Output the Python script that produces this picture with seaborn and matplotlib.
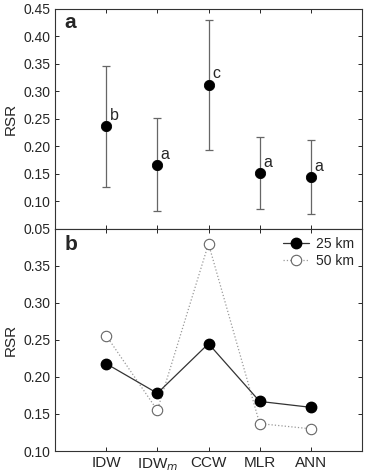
import numpy as np
import pandas as pd
import matplotlib
matplotlib.use("Agg")
import matplotlib.pyplot as plt
import seaborn as sns

methods = ["IDW", "IDW$_m$", "CCW", "MLR", "ANN"]
rsr_mean = [0.237, 0.166, 0.312, 0.151, 0.144]
rsr_low = [0.127, 0.082, 0.194, 0.087, 0.077]
rsr_high = [0.346, 0.251, 0.430, 0.217, 0.212]
groups = ["b", "a", "c", "a", "a"]
rsr_25km = [0.218, 0.178, 0.245, 0.167, 0.159]
rsr_50km = [0.256, 0.155, 0.380, 0.137, 0.130]

sns.set_style("ticks")
plt.rcParams["font.family"] = ["Liberation Sans", "DejaVu Sans"]
plt.rcParams["font.size"] = 10
plt.rcParams["xtick.direction"] = "in"
plt.rcParams["ytick.direction"] = "in"
plt.rcParams["axes.edgecolor"] = "#333333"
plt.rcParams["axes.linewidth"] = 0.8

x = np.arange(len(methods))
df_a = pd.DataFrame({"x": x, "rsr": rsr_mean})
df_b = pd.DataFrame({
    "x": np.concatenate([x, x]),
    "rsr": rsr_25km + rsr_50km,
    "dist": ["25 km"] * 5 + ["50 km"] * 5,
})

fig = plt.figure(figsize=(3.73, 4.73), dpi=100)
ax1 = fig.add_axes([0.1475, 0.516, 0.823, 0.465])
ax2 = fig.add_axes([0.1475, 0.0465, 0.823, 0.4695])

# panel a
err = [np.array(rsr_mean) - np.array(rsr_low), np.array(rsr_high) - np.array(rsr_mean)]
ax1.errorbar(x, rsr_mean, yerr=err, fmt="none", ecolor="#666666",
             elinewidth=0.9, capsize=3, capthick=0.9, zorder=1)
sns.scatterplot(data=df_a, x="x", y="rsr", ax=ax1, color="black", s=55,
                edgecolor="black", zorder=3, legend=False)
for xi, yi, g in zip(x, rsr_mean, groups):
    ax1.annotate(g, (xi, yi), xytext=(2.5, 2.5), textcoords="offset points",
                 ha="left", va="bottom", fontsize=11.5)
ax1.set_xlim(-1, 5)
ax1.set_ylim(0.05, 0.45)
ax1.set_yticks(np.arange(0.05, 0.451, 0.05))
ax1.set_yticklabels([f"{v:.2f}" for v in np.arange(0.05, 0.451, 0.05)])
ax1.set_xticks(x)
ax1.set_xticklabels([])
ax1.set_xlabel("")
ax1.set_ylabel("RSR", fontsize=11)
ax1.tick_params(top=True, right=True, length=3, width=0.7, labelsize=10)
ax1.text(0.03, 0.94, "a", transform=ax1.transAxes, fontsize=15,
         fontweight="bold", va="center", ha="left")

# panel b
sub25 = df_b[df_b["dist"] == "25 km"]
sub50 = df_b[df_b["dist"] == "50 km"]
ax2.plot(sub25["x"], sub25["rsr"], color="#333333", lw=0.9, ls="-",
         marker="o", ms=7.5, mfc="black", mec="black", label="25 km", zorder=3)
ax2.plot(sub50["x"], sub50["rsr"], color="#999999", lw=0.9, ls=":",
         marker="o", ms=7.5, mfc="white", mec="#666666", mew=0.8,
         label="50 km", zorder=2)
ax2.set_xlim(-1, 5)
ax2.set_ylim(0.10, 0.40)
ax2.set_yticks([0.10, 0.15, 0.20, 0.25, 0.30, 0.35])
ax2.set_yticklabels(["0.10", "0.15", "0.20", "0.25", "0.30", "0.35"])
ax2.set_xticks(x)
ax2.set_xticklabels(methods, fontsize=11)
ax2.set_xlabel("")
ax2.set_ylabel("RSR", fontsize=11)
ax2.tick_params(top=True, right=True, length=3, width=0.7, labelsize=10)
ax2.tick_params(axis="x", labelsize=11)
ax2.text(0.03, 0.93, "b", transform=ax2.transAxes, fontsize=15,
         fontweight="bold", va="center", ha="left")
ax2.legend(loc="upper right", frameon=False, handlelength=1.9,
           handletextpad=0.5, borderaxespad=0.15, labelspacing=0.25,
           fontsize=10)

fig.savefig("out.png", dpi=100)
